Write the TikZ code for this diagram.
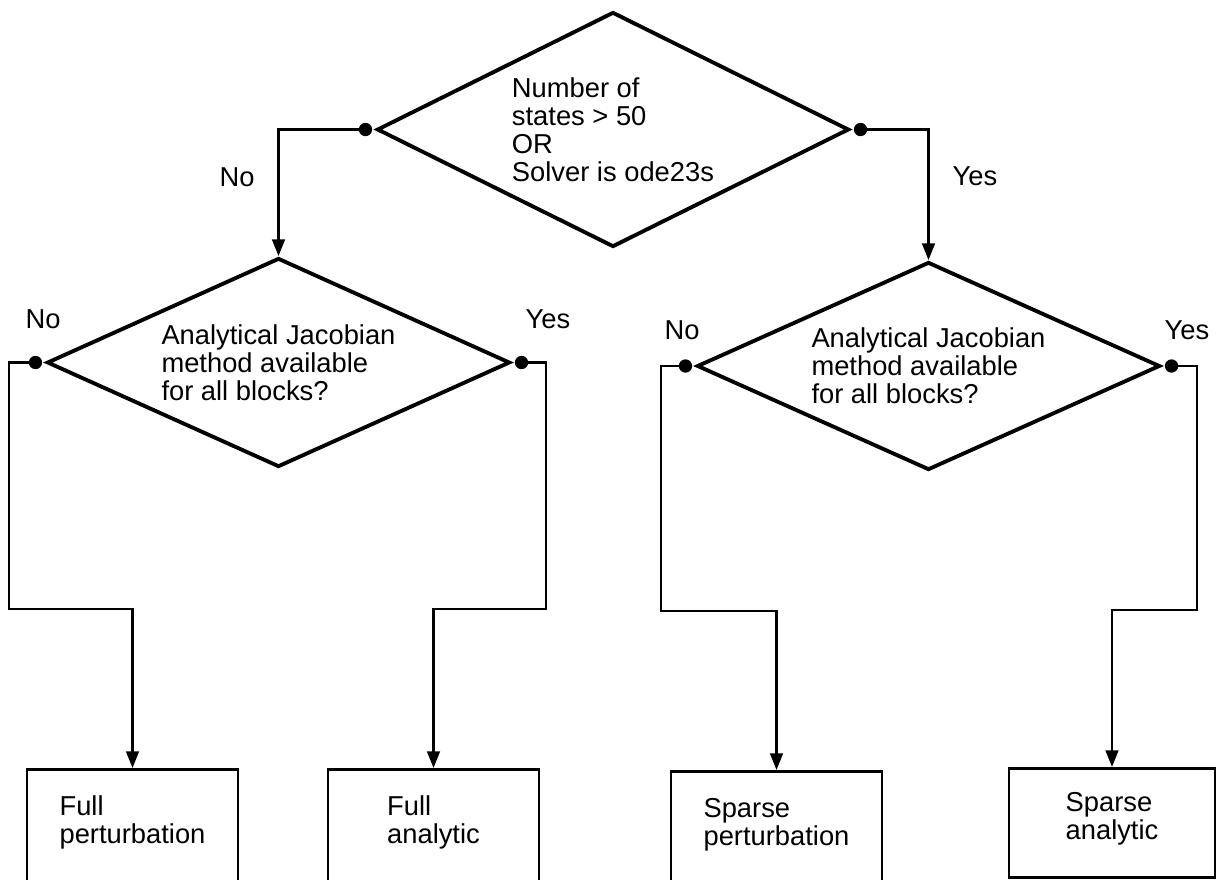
\documentclass[tikz,border=0pt]{standalone}
\usepackage{fontspec}
\setmainfont{Liberation Sans}
\usetikzlibrary{arrows.meta,positioning,shapes.geometric}

\begin{document}
\begin{tikzpicture}[x=0.75pt,y=-0.75pt,>={Triangle[length=12.5pt,width=9.5pt]},
 every node/.style={font=\fontsize{20.5}{21}\selectfont},
 decision/.style={diamond,draw,line width=2.9pt,aspect=2.2,inner sep=0pt,align=left},
 outcome/.style={draw,line width=2.1pt,anchor=north,minimum width=158.25pt,minimum height=85.5pt,text depth=10pt,align=left},
 joint/.style={circle,fill,inner sep=0pt,minimum size=10pt},
 link/.style={line width=1.9pt}]
\useasboundingbox (0,0) rectangle (1218,879);
% decisions
\node[decision,minimum width=354pt,minimum height=176.25pt] (top) at (613,129.5) {Number of\\states > 50\\OR\\Solver is ode23s};
\node[decision,minimum width=347.25pt,minimum height=156.75pt] (full) at (278.5,362.5) {Analytical Jacobian\\method available\\for all blocks?};
\node[decision,minimum width=347.25pt,minimum height=156pt] (sparse) at (928.5,366) {Analytical Jacobian\\method available\\for all blocks?};
\node[joint,left=2pt of top.west] (t-no) {};
\node[joint,right=2pt of top.east] (t-yes) {};
\node[joint,left=2pt of full.west] (f-no) {};
\node[joint,right=2pt of full.east] (f-yes) {};
\node[joint,left=2pt of sparse.west] (s-no) {};
\node[joint,right=2pt of sparse.east] (s-yes) {};
% results
\node[outcome] (fp) at (132.5,768) {Full\\perturbation};
\node[outcome] (fa) at (433.5,768) {Full\\analytic};
\node[outcome] (sp) at (776.5,770) {Sparse\\perturbation};
\node[outcome,minimum width=154.5pt,minimum height=81.75pt] (sa) at (1112,767) {Sparse\\analytic};
% branch labels
\node (t-no-l) at (237,177) {No};
\node (t-yes-l) at (975,176) {Yes};
\node (f-no-l) at (43,319) {No};
\node (f-yes-l) at (548,319) {Yes};
\node (s-no-l) at (682,330) {No};
\node (s-yes-l) at (1187,330) {Yes};
% bends
\coordinate (f-no-b) at (9,609);
\coordinate (f-yes-b) at (546,609);
\coordinate (s-no-b) at (661,611);
\coordinate (s-yes-b) at (1197,610);
\draw[link,->] (t-no) -| (full.north);
\draw[link,->] (t-yes) -| (sparse.north);
\draw[link,->] (f-no) -| (f-no-b) -| (fp.north);
\draw[link,->] (f-yes) -| (f-yes-b) -| (fa.north);
\draw[link,->] (s-no) -| (s-no-b) -| (sp.north);
\draw[link,->] (s-yes) -| (s-yes-b) -| (sa.north);
\end{tikzpicture}
\end{document}
